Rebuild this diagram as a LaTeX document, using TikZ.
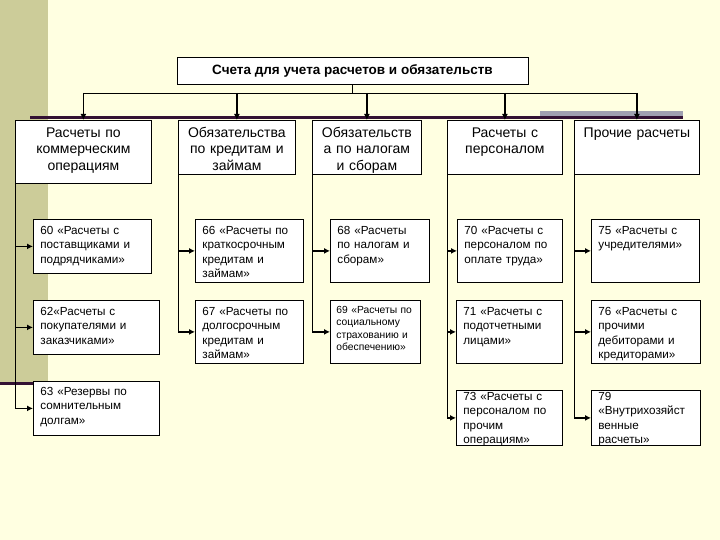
\documentclass[tikz,border=0pt]{standalone}
\usepackage{fontspec}
\setmainfont{Liberation Sans}
\usetikzlibrary{arrows.meta, positioning}
\definecolor{bgyellow}{RGB}{255,255,225}
\definecolor{stripolive}{RGB}{204,204,153}
\definecolor{plumline}{RGB}{51,17,51}
\definecolor{bargray}{RGB}{160,160,176}

\begin{document}
\begin{tikzpicture}[
    x=1pt, y=-1pt,
    box/.style={draw, fill=white, line width=0.8pt},
    head/.style={box, anchor=north west, align=center, inner xsep=2pt, inner ysep=0pt,
                 text height=17pt, font=\fontsize{14}{16.5}\selectfont},
    acc/.style={box, anchor=north west, align=left, inner xsep=7pt, inner ysep=0pt,
                text height=15pt, font=\fontsize{11.7}{14.5}\selectfont},
    arr/.style={-{Latex[length=6pt,width=6pt]}, line width=1.8pt},
    spine/.style={line width=0.8pt},
]
    % Slide background.
    \fill[bgyellow] (0,0) rectangle (720,540);
    \useasboundingbox (0,0) rectangle (720,540);
    \fill[stripolive] (0,0) rectangle (48,382);
    \fill[plumline] (0,381.5) rectangle (33,385);
    \fill[bargray] (540,111) rectangle (683,119);
    \fill[plumline] (30,116.5) rectangle (683,119);

    % Root.
    \node[box, minimum width=351pt, minimum height=27pt, inner sep=0pt,
          font=\bfseries\fontsize{13.5}{15}\selectfont] (top) at (352.5,70.5)
        {Счета для учета расчетов и обязательств};
    \coordinate (bus) at (352.5,93);

    % Groups.
    \node[head, text width=132pt, text depth=46pt] (h1) at (15,120)
        {Расчеты по\\коммерческим\\операциям};
    \node[head, text width=113pt, text depth=37pt] (h2) at (178,120)
        {Обязательства\\по кредитам и\\займам};
    \node[head, text width=105pt, text depth=37pt] (h3) at (312,120)
        {Обязательств\\а по налогам\\и сборам};
    \node[head, text width=111pt, text depth=37pt] (h4) at (447,120)
        {Расчеты с\\персоналом};
    \node[head, text width=121pt, text depth=37pt] (h5) at (574,120)
        {Прочие расчеты};

    % Accounts.
    \node[acc, text width=104pt, text depth=39pt] (a60) at (33,219)
        {60 «Расчеты с\\поставщиками и\\подрядчиками»};
    \node[acc, text width=112pt, text depth=39pt] (a62) at (33,300)
        {62«Расчеты с\\покупателями и\\заказчиками»};
    \node[acc, text width=112pt, text height=14pt, text depth=40pt] (a63) at (33,381)
        {63 «Резервы по\\сомнительным\\долгам»};

    \node[acc, text width=94pt, text depth=48pt] (a66) at (195,219)
        {66 «Расчеты по\\краткосрочным\\кредитам и\\займам»};
    \node[acc, text width=94pt, text depth=48pt] (a67) at (195,300)
        {67 «Расчеты по\\долгосрочным\\кредитам и\\займам»};

    \node[acc, text width=85pt, text depth=48pt] (a68) at (330,219)
        {68 «Расчеты\\по налогам и\\сборам»};
    \node[acc, inner xsep=6pt, text width=78pt, text height=13pt, text depth=50pt,
          font=\fontsize{10.3}{12.3}\selectfont] (a69) at (330,300)
        {69 «Расчеты по\\социальному\\страхованию и\\обеспечению»};

    \node[acc, text width=91pt, text depth=48pt] (a70) at (457,219)
        {70 «Расчеты с\\персоналом по\\оплате труда»};
    \node[acc, text width=92pt, text depth=48pt] (a71) at (456,300)
        {71 «Расчеты с\\подотчетными\\лицами»};
    \node[acc, text width=92pt, text height=10pt, text depth=45pt] (a73) at (456,390)
        {73 «Расчеты с\\персоналом по\\прочим\\операциям»};

    \node[acc, text width=94pt, text depth=48pt] (a75) at (591,219)
        {75 «Расчеты с\\учредителями»};
    \node[acc, text width=95pt, text depth=48pt] (a76) at (591,300)
        {76 «Расчеты с\\прочими\\дебиторами и\\кредиторами»};
    \node[acc, text width=95pt, text height=10pt, text depth=45pt] (a79) at (591,390)
        {79\\«Внутрихозяйст\\венные\\расчеты»};

    % Connectors.
    \draw[spine] (top.south) -- (top.south |- bus);
    \draw[spine] (h1.north |- bus) -- (h5.north |- bus);
    \foreach \n in {h1,h2,h3,h4,h5}
        \draw[arr] (\n.north |- bus) -- (\n.north);
    \foreach \h/\c in {h1/a63,h2/a67,h3/a69,h4/a73,h5/a79}
        \draw[spine] (\h.south west) -- (\h.south west |- \c.west);
    \foreach \h/\c in {h1/a60,h1/a62,h1/a63,h2/a66,h2/a67,h3/a68,h3/a69,
                       h4/a70,h4/a71,h4/a73,h5/a75,h5/a76,h5/a79}
        \draw[arr] (\h.south west |- \c.west) -- (\c.west);
\end{tikzpicture}
\end{document}
